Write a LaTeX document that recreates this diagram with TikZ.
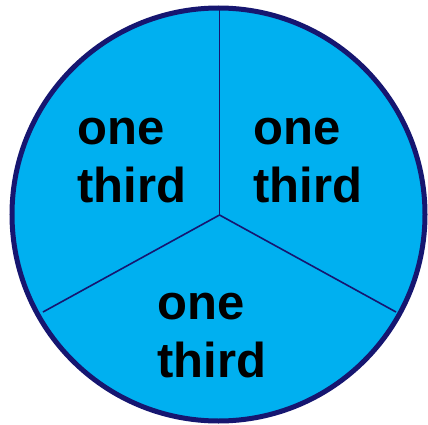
\documentclass[tikz,border=0pt]{standalone}
\usepackage{fontspec}
\setmainfont{Liberation Sans}
\definecolor{pie}{RGB}{0,176,240}
\definecolor{rim}{RGB}{22,22,112}
\begin{document}
\begin{tikzpicture}[x=1pt,y=-1pt,
  lbl/.style={anchor=base west,inner sep=0pt,align=left,font=\bfseries\fontsize{49}{58}\selectfont,text=black},
  divider/.style={draw=rim,line width=1.6pt}]
\useasboundingbox (0,0) rectangle (428,425);
\coordinate (c) at (219.5,215);
\node[draw=rim,line width=5pt,fill=pie,circle,minimum size=413pt,inner sep=0pt] (disc) at (218.5,214.5) {};
\coordinate (top) at (219.5,9);
\coordinate (ll) at (43,312);
\coordinate (lr) at (396,312);
\draw[divider] (c) -- (top);
\draw[divider] (c) -- (ll);
\draw[divider] (c) -- (lr);
\node[lbl] (t1) at (77,202) {one\\third};
\node[lbl] (t2) at (253,202) {one\\third};
\node[lbl] (t3) at (157,377) {one\\third};
\end{tikzpicture}
\end{document}
